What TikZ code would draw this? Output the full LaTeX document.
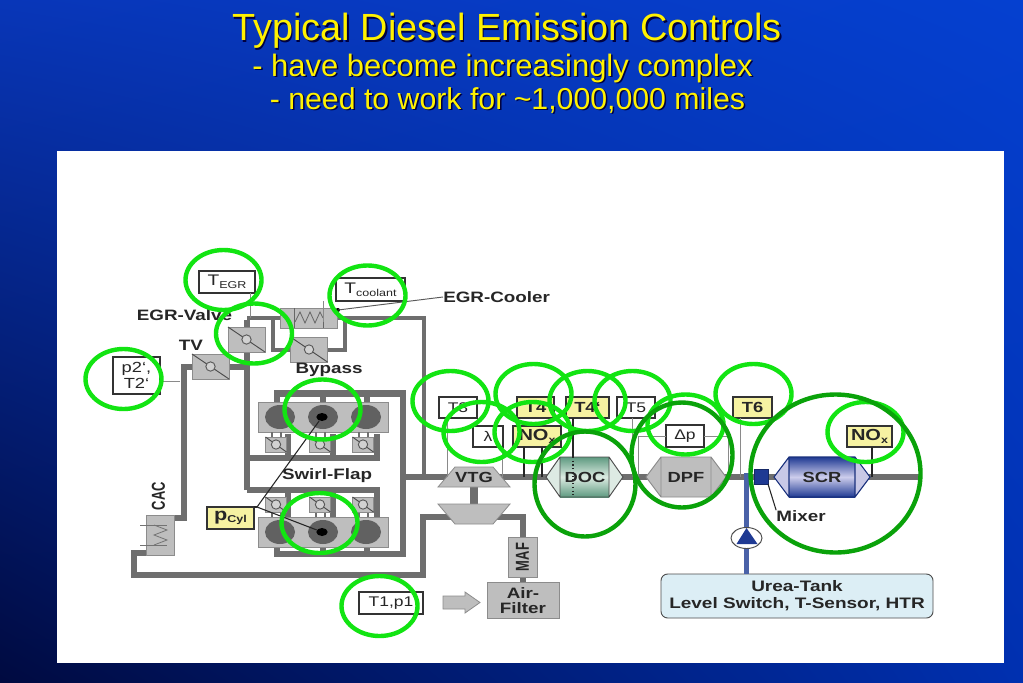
\documentclass[tikz,border=0pt]{standalone}
\usepackage{fontspec}
\setmainfont[FakeStretch=1.25]{Liberation Sans}
\newfontfamily\titlefont{Liberation Sans}
\usetikzlibrary{shapes.geometric,shadings}
\definecolor{pipeg}{HTML}{6E6E6E}
\definecolor{boxg}{HTML}{BEBEBE}
\definecolor{edgeg}{HTML}{8C8C8C}
\definecolor{senyel}{HTML}{F6F2A2}
\definecolor{linkg}{HTML}{8A8A8A}
\definecolor{ringl}{HTML}{12E412}
\definecolor{ringd}{HTML}{0AA20A}
\definecolor{navyb}{HTML}{1F3A93}
\definecolor{ureab}{HTML}{4A62A8}
\definecolor{tankb}{HTML}{DCEEF5}
\definecolor{bgul}{HTML}{0836B8}
\definecolor{bgur}{HTML}{0540D0}
\definecolor{bgll}{HTML}{000A40}
\definecolor{bglr}{HTML}{0030B0}
\definecolor{docdark}{HTML}{5E9A80}
\definecolor{doclight}{HTML}{DCEBE2}
\definecolor{doccone}{HTML}{DDEAE3}
\definecolor{scrlight}{HTML}{CDCDEC}
\definecolor{scrcone}{HTML}{C8C8E6}
\newcommand{\lowtxt}[1]{\raisebox{-2.5pt}{\fontsize{7.5}{9}\selectfont #1}}
\newcommand{\lowbold}[1]{\raisebox{-2pt}{\fontsize{7.5}{9}\selectfont\bfseries #1}}
\newcommand{\sidetxt}[1]{\scalebox{1}[1.45]{\titlefont\fontsize{9.7}{11}\selectfont\bfseries #1}}
\tikzset{
  x=0.75pt,y=-0.75pt,
  sz/.style 2 args={minimum width=#1*0.75pt,minimum height=#2*0.75pt,inner sep=0pt,outer sep=0pt},
  pipe/.style={draw=pipeg,line width=5pt,line join=miter},
  piperail/.style={draw=pipeg,line width=4.5pt,line join=miter},
  pipethin/.style={draw=pipeg,line width=3.6pt,line join=miter},
  sig/.style={draw=linkg,line width=0.7pt},
  sigk/.style={draw=black!85,line width=0.8pt},
  sensor/.style={draw=black!80,fill=white,line width=0.8pt,font=\fontsize{10.5}{11.8}\selectfont,align=center,text=black!85},
  sensory/.style={sensor,fill=senyel,font=\fontsize{11}{12}\selectfont\bfseries},
  valvebox/.style={draw=edgeg,fill=boxg,line width=0.6pt},
  valveline/.style={draw=black!70,line width=0.7pt},
  valvedot/.style={circle,draw=black!65,fill=boxg!70,line width=0.7pt,minimum size=7pt,inner sep=0pt},
  lbl/.style={font=\fontsize{11.3}{13}\selectfont\bfseries,text=black!85,inner sep=0pt},
  vlbl/.style={font=\fontsize{11}{13}\selectfont\bfseries,text=black!85,inner sep=0pt},
  ring/.style={draw=ringl,line width=3.3pt},
  ringb/.style={draw=ringd,line width=3.3pt},
  blockb/.style={draw=edgeg,fill=boxg,line width=0.6pt},
  cylb/.style={ellipse,fill=black!62,minimum width=22.5pt,minimum height=18pt,inner sep=0pt},
  cylc/.style={ellipse,fill=black,minimum width=8.5pt,minimum height=6pt,inner sep=0pt},
  vessel/.style={draw=black!70,line width=0.7pt},
  title/.style={inner sep=0pt,text=yellow},
  shadowt/.style={inner sep=0pt,text=black!75!blue},
}
\newcommand{\valve}[5]{%
  \node[valvebox,sz={#4}{#5}] (#1) at (#2,#3) {};
  \draw[valveline] (#1.north west) -- (#1.south east);
  \node[valvedot] (#1d) at (#1) {};}
\begin{document}
\begin{tikzpicture}
\useasboundingbox (0,0) rectangle (1023,682);
% background
\shade[upper left=bgul,upper right=bgur,lower left=bgll,lower right=bglr]
  (0,0) rectangle (1023,682);
% title
\node[shadowt,font=\titlefont\fontsize{28.4}{32}\selectfont] (ts1) at (508.5,32.5) {Typical Diesel Emission Controls};
\node[title,font=\titlefont\fontsize{28.4}{32}\selectfont] (t1) at (507,31) {Typical Diesel Emission Controls};
\node[shadowt,font=\titlefont\fontsize{23.2}{26}\selectfont] (ts2) at (504,69.5) {- have become increasingly complex};
\node[title,font=\titlefont\fontsize{23.2}{26}\selectfont] (t2) at (502.5,68) {- have become increasingly complex};
\node[shadowt,font=\titlefont\fontsize{22.7}{26}\selectfont] (ts3) at (509,101.5) {- need to work for \textasciitilde 1,000,000 miles};
\node[title,font=\titlefont\fontsize{22.7}{26}\selectfont] (t3) at (507.5,100) {- need to work for \textasciitilde 1,000,000 miles};
% panel
\fill[white] (57,151) rectangle (1004,663);

% junction coordinates
\coordinate (jTop) at (247,318);
\coordinate (jTopR) at (424,318);
\coordinate (jExh) at (424,477);
\coordinate (jInB) at (247,490);
\coordinate (jManR) at (403,477);
\coordinate (jExhEnd) at (920,477);
\coordinate (jLoopL) at (273,318);
\coordinate (jLoopR) at (345,318);

% pipes
\draw[pipethin] (jTop) -- (jTopR) -- (jExh);
\draw[pipe] (jInB) -- ([yshift=-1.3pt]jTop);
\draw[pipethin] (jLoopL) |- (309,350) -| (jLoopR);
\draw[piperail] (jManR) -- (jExhEnd);
\draw[pipe] (174,518) -- (184,518) -- (184,367) -- (247,367);
\draw[piperail] (146,553) -- (134,553) -- (134,575) -- (423,575) -- (423,517) -- (523,517) -- (523,582);
% manifolds
\draw[pipe] (277,402) -- (277,393.5) -- (403,393.5) -- (403,554) -- (277,554) -- (277,547);
\draw[pipe] (323,393.5) -- (323,402);
\draw[pipe] (367,393.5) -- (367,402);
\draw[pipe] (323,547) -- (323,554);
\draw[pipe] (367,547) -- (367,554);
% intake rails
\draw[pipe] (247,458) -- (377,458) -- (377,434);
\draw[pipe] (288,458) -- (288,434);
\draw[pipe] (333,458) -- (333,434);
\draw[pipe] (247,490) -- (377,490) -- (377,517);
\draw[pipe] (288,490) -- (288,517);
\draw[pipe] (333,490) -- (333,517);

% valves
\valve{egrv}{246.5}{339.5}{37}{25}
\valve{tv}{210.5}{366.5}{37}{25}
\valve{byp}{309}{349.5}{37}{25}
% cooler
\node[valvebox,sz={57}{20}] (cool) at (308.5,318) {};
\draw[black!60,line width=0.6pt] (294,308) -- (294,328) (323,308) -- (323,328);
\draw[black!60,line width=0.6pt] (295,322) -- (300,312) -- (305,323) -- (310,312) -- (315,323) -- (320,312) -- (323,318);
% blocks
\node[blockb,sz={130}{30}] (blkU) at (323,417) {};
\node[blockb,sz={130}{30}] (blkL) at (323,532) {};
\node[cylb] (cu1) at (280,417) {};
\node[cylb] (cu2) at (323,417) {};
\node[cylb] (cu3) at (366,417) {};
\node[cylb] (cl1) at (280,532) {};
\node[cylb] (cl2) at (323,532) {};
\node[cylb] (cl3) at (366,532) {};
\node[cylc] (pu) at (322,417) {};
\node[cylc] (pl) at (322,532) {};
% flaps
\draw[pipeg,line width=2pt] (272,432) -- (272,437) (281,432) -- (281,437) (316,432) -- (316,437) (325,432) -- (325,437) (359,432) -- (359,437) (368,432) -- (368,437);
\draw[pipeg,line width=2pt] (272,512) -- (272,517) (281,512) -- (281,517) (316,512) -- (316,517) (325,512) -- (325,517) (359,512) -- (359,517) (368,512) -- (368,517);
\valve{fu1}{276}{444.5}{21}{15}
\valve{fu2}{320}{444.5}{21}{15}
\valve{fu3}{363}{444.5}{21}{15}
\valve{fl1}{276}{504.5}{21}{15}
\valve{fl2}{320}{504.5}{21}{15}
\valve{fl3}{363}{504.5}{21}{15}
% CAC
\node[valvebox,sz={28}{40}] (cac) at (160,535) {};
\draw[black!55,line width=0.5pt] (140,525) -- (167,525) (140,545) -- (167,545);
\draw[black!55,line width=0.6pt] (154,525) -- (167,530) -- (154,535) -- (167,540) -- (154,545);
\node[text=black!85,inner sep=0pt,rotate=90] (caclbl) at (158.5,496) {\sidetxt{CAC}};
% VTG / compressor
\draw[line width=6pt,draw=pipeg] (474,487) -- (474,504);
\draw[draw=edgeg,fill=boxg,line width=0.6pt] (455,467) -- (493,467) -- (510,487) -- (438,487) -- cycle;
\node[vlbl] (vtgl) at (474,477.5) {VTG};
\draw[draw=edgeg,fill=boxg,line width=0.6pt] (438,504) -- (510,504) -- (493,524) -- (455,524) -- cycle;
% MAF and filter
\node[valvebox,sz={29}{40}] (maf) at (522.5,557) {};
\node[text=black!85,inner sep=0pt,rotate=90] (mafl) at (522.5,557) {\sidetxt{MAF}};
\node[valvebox,sz={72}{36},lbl,align=center,font=\fontsize{11.3}{11.8}\selectfont\bfseries] (filt) at (523,600.5) {Air-\\Filter};
\draw[valvebox] (443,596) -- (465,596) -- (465,592) -- (480,602.5) -- (465,613) -- (465,609) -- (443,609) -- cycle;
% sensors
\node[sensor,sz={56}{22},font=\fontsize{11.5}{12}\selectfont] (tegr) at (227,282) {T\lowtxt{EGR}};
\node[sensor,sz={69}{23},font=\fontsize{11.5}{12}\selectfont] (tcool) at (370.5,289.5) {T\lowtxt{coolant}};
\node[sensor,sz={47}{37},font=\fontsize{11}{11.8}\selectfont] (p2) at (136.5,375.5) {p2‘,\\T2‘};
\node[sensory,sz={47}{22},font=\fontsize{13}{14}\selectfont\bfseries] (pcyl) at (230.5,518) {p\lowbold{Cyl}};
\node[sensor,sz={64}{22}] (t1p1) at (391,603) {T1,p1};
\node[sensor,sz={38}{21}] (s3) at (458,407.5) {T3};
\node[sensor,sz={30}{21}] (slam) at (488,436.5) {λ};
\node[sensory,sz={37}{21}] (s4) at (535.5,407.5) {T4};
\node[sensory,sz={48}{21},font=\fontsize{12}{13}\selectfont\bfseries] (snox) at (537,436.5) {NO\lowbold{x}};
\node[sensory,sz={43}{21}] (s4p) at (587.5,407.5) {T4‘};
\node[sensor,sz={38}{21}] (s5) at (636,407.5) {T5};
\node[sensor,sz={38}{22}] (sdp) at (685,436) {Δp};
\node[sensory,sz={39}{21}] (s6) at (752.5,407.5) {T6};
\node[sensory,sz={45}{21},font=\fontsize{12}{13}\selectfont\bfseries] (snox2) at (869.5,436.5) {NO\lowbold{x}};
% sensor leads
\coordinate (eT3) at (447,477);
\coordinate (eLam) at (502,477);
\coordinate (eT4) at (524,477);
\coordinate (eNx) at (542,477);
\coordinate (eT4p) at (573,457);
\coordinate (eT5) at (632,477);
\coordinate (eDpL) at (638,477);
\coordinate (eDpR) at (728,477);
\coordinate (eT6) at (740,477);
\coordinate (eNx2) at (872,477);
\coordinate (eLead) at (338,310);
\draw[sig] (eT3) -- (eT3 |- s3.south);
\draw[sig] (eLam) -- (eLam |- slam.south);
\draw[sigk] (eT4) -- (eT4 |- snox.south);
\draw[sigk] (eNx) -- (eNx |- snox.south);
\draw[sig] (eT5) -- (eT5 |- s5.south);
\draw[sig] (eDpL) |- (sdp.west);
\draw[sig] (eDpR) |- (sdp.east);
\draw[sig] (eT6) -- (eT6 |- s6.south);
\draw[sigk] (eNx2) -- (eNx2 |- snox2.south);
\coordinate (eTe) at (250,318);
\draw[sig] (eTe) -- (eTe |- tegr.south);
\coordinate (eTc) at (323,322);
\draw[sig] (eTc) -- (eTc |- tcool.south);
\coordinate (eP2) at (180,381);
\draw[sig] (eP2) -- (eP2 -| p2.east);
% vessels
\fill[doccone] (546,477) -- (560,457) -- (609,457) -- (623,477) -- (609,497) -- (560,497) -- cycle;
\shade[top color=docdark,bottom color=docdark,middle color=doclight] (560,457) rectangle (609,497);
\draw[vessel] (546,477) -- (560,457) -- (609,457) -- (623,477) -- (609,497) -- (560,497) -- cycle (560,457) -- (560,497) (609,457) -- (609,497);
\node[vlbl] (doc) at (585,477) {DOC};
\draw[sigk] (eT4p) -- (eT4p |- s4p.south);
\draw[sigk,dotted] (eT4p) -- (573,497);
\draw[draw=edgeg,fill=boxg,line width=0.7pt] (646,477) -- (661,457) -- (711,457) -- (726,477) -- (711,497) -- (661,497) -- cycle (661,457) -- (661,497) (711,457) -- (711,497);
\node[vlbl] (dpf) at (686,477) {DPF};
\fill[scrcone] (774,477) -- (789,457) -- (855,457) -- (870,477) -- (855,497) -- (789,497) -- cycle;
\shade[top color=navyb,bottom color=navyb,middle color=scrlight] (789,457) rectangle (855,497);
\draw[draw=navyb!85!black,line width=0.8pt] (774,477) -- (789,457) -- (855,457) -- (870,477) -- (855,497) -- (789,497) -- cycle (789,457) -- (789,497) (855,457) -- (855,497);
\node[vlbl] (scr) at (822,477) {SCR};
% urea
\coordinate (uTop) at (746.5,473);
\node[draw=black!70,fill=tankb,rounded corners=5pt,line width=0.7pt,sz={272}{44},font=\fontsize{11.4}{12.6}\selectfont\bfseries,align=center,text=black!85] (tank) at (797,596) {Urea-Tank\\Level Switch, T-Sensor, HTR};
\draw[ureab,line width=3.8pt] (uTop) -- (uTop |- tank.north);
\node[ellipse,draw=black!70,fill=white,line width=0.7pt,sz={31}{21}] (pump) at (746.5,538) {};
\fill[navyb] (736.5,544) -- (757.5,544) -- (746.5,528) -- cycle;
\node[fill=navyb,draw=navyb!70!black,sz={14}{15}] (mix) at (761,476.5) {};
\node[lbl] (mixl) at (801,516) {Mixer};
\draw[sigk] (mix.south east) -- (mixl.north west);
% labels
\node[lbl] (lbEgr) at (184.5,315) {EGR-Valve};
\node[lbl] (lbTv) at (191,345) {TV};
\node[lbl] (lbByp) at (329,370) {Bypass};
\node[lbl] (lbSw) at (327,476) {Swirl-Flap};
\node[lbl,anchor=west] (lbCool) at (443,297) {EGR-Cooler};
\fill[black] (eLead) circle (2);
\draw[sig,draw=black!65] (eLead) -- (lbCool.west);
% pcyl leads
\coordinate (pj) at (257,507);
\draw[sigk] (pu) -- (pj) -- (pl);
\draw[sigk] (pj) -- (pcyl.north east);
% rings
\foreach \cx/\cy in {223.5/280,254/333.5,367.5/295.5,123.5/379,322.5/409.5,319.5/523,379.5/606,450.5/401,481.5/432,533.5/394,532.5/432,587.5/401,632.5/401,685.5/424.5,753.5/394,865.5/432}
  \draw[ring] (\cx,\cy) ellipse [x radius=38,y radius=30];
\draw[ringb] (585,484) ellipse [x radius=50.5,y radius=52.5];
\draw[ringb] (682,455) ellipse [x radius=50.5,y radius=52.5];
\draw[ringb] (835.5,473.5) ellipse [x radius=85,y radius=79];
\end{tikzpicture}
\end{document}
